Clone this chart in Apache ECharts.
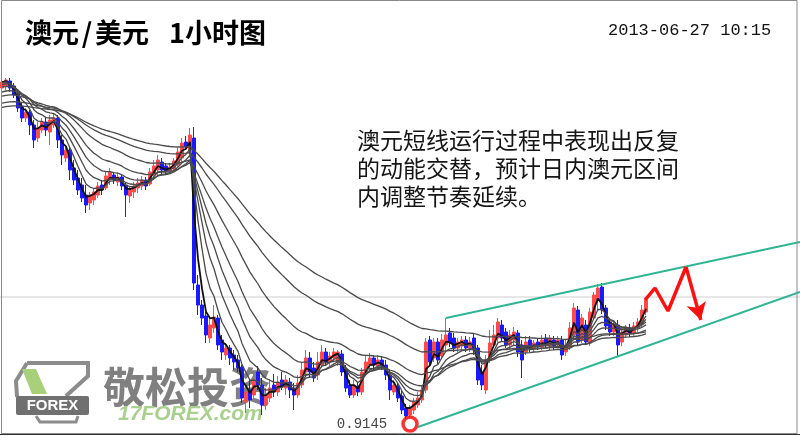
<!DOCTYPE html>
<html>
<head>
<meta charset="utf-8">
<script src="https://cdn.jsdelivr.net/npm/echarts/dist/echarts.min.js"></script>
<style>html,body{margin:0;padding:0;background:#fff;}#c{width:800px;height:436px;}</style>
</head>
<body>
<div id="c"></div>
<script>
// ---- data (AUD/USD, 1 hour candles) ----
const opens = [
0.9479,0.9481,0.9486,0.9481,0.9473,0.9461,0.9449,0.9455,0.9442,0.9429,
0.9437,0.9445,0.9435,0.9442,0.9449,0.9427,0.9409,0.9417,0.9399,0.9389,
0.9382,0.9372,0.9364,0.9367,0.9372,0.9382,0.9379,0.9387,0.9392,0.9385,
0.9390,0.9382,0.9371,0.9375,0.9379,0.9381,0.9387,0.9383,0.9392,0.9397,
0.9405,0.9401,0.9396,0.9398,0.9402,0.9409,0.9425,0.9417,0.9429,0.9282,
0.9262,0.9251,0.9229,0.9239,0.9249,0.9227,0.9212,0.9219,0.9212,0.9207,
0.9200,0.9165,0.9177,0.9172,0.9195,0.9182,0.9162,0.9169,0.9182,0.9175,
0.9187,0.9179,0.9185,0.9179,0.9172,0.9182,0.9195,0.9209,0.9199,0.9192,
0.9202,0.9215,0.9205,0.9209,0.9205,0.9213,0.9197,0.9182,0.9172,0.9181,
0.9175,0.9195,0.9202,0.9209,0.9201,0.9207,0.9202,0.9192,0.9175,0.9181,
0.9171,0.9159,0.9152,0.9157,0.9162,0.9167,0.9177,0.9227,0.9209,0.9225,
0.9211,0.9222,0.9234,0.9229,0.9219,0.9221,0.9227,0.9219,0.9229,0.9219,
0.9195,0.9177,0.9207,0.9222,0.9229,0.9242,0.9235,0.9222,0.9227,0.9234,
0.9222,0.9215,0.9227,0.9219,0.9225,0.9220,0.9229,0.9221,0.9227,0.9222,
0.9227,0.9215,0.9220,0.9232,0.9257,0.9227,0.9242,0.9224,0.9249,0.9267,
0.9280,0.9259,0.9245,0.9235,0.9242,0.9225,0.9232,0.9239,0.9234,0.9239,
0.9243,0.9255];
const closes = [
0.9485,0.9487,0.9479,0.9472,0.9459,0.9449,0.9455,0.9442,0.9427,0.9439,
0.9445,0.9437,0.9447,0.9449,0.9427,0.9412,0.9417,0.9397,0.9387,0.9377,
0.9369,0.9362,0.9372,0.9375,0.9381,0.9377,0.9391,0.9395,0.9387,0.9390,
0.9381,0.9372,0.9377,0.9381,0.9384,0.9387,0.9381,0.9395,0.9401,0.9407,
0.9397,0.9396,0.9400,0.9406,0.9415,0.9424,0.9420,0.9432,0.9284,0.9262,
0.9249,0.9232,0.9242,0.9250,0.9222,0.9215,0.9219,0.9209,0.9205,0.9199,
0.9169,0.9175,0.9167,0.9187,0.9182,0.9162,0.9172,0.9179,0.9175,0.9185,
0.9181,0.9187,0.9177,0.9172,0.9184,0.9197,0.9209,0.9195,0.9189,0.9205,
0.9215,0.9205,0.9211,0.9215,0.9215,0.9195,0.9179,0.9172,0.9182,0.9175,
0.9195,0.9205,0.9209,0.9202,0.9207,0.9201,0.9192,0.9177,0.9182,0.9169,
0.9157,0.9151,0.9159,0.9165,0.9169,0.9177,0.9225,0.9205,0.9225,0.9207,
0.9227,0.9232,0.9224,0.9219,0.9225,0.9227,0.9219,0.9225,0.9217,0.9187,
0.9182,0.9207,0.9224,0.9232,0.9245,0.9229,0.9222,0.9232,0.9235,0.9215,
0.9207,0.9225,0.9219,0.9224,0.9220,0.9227,0.9222,0.9229,0.9221,0.9227,
0.9212,0.9222,0.9239,0.9259,0.9225,0.9249,0.9225,0.9255,0.9272,0.9279,
0.9257,0.9241,0.9235,0.9242,0.9222,0.9235,0.9239,0.9234,0.9241,0.9245,
0.9257,0.9267];
const lows = [
0.9475,0.9477,0.9475,0.9469,0.9455,0.9445,0.9445,0.9432,0.9419,0.9425,
0.9434,0.9431,0.9422,0.9439,0.9419,0.9402,0.9405,0.9387,0.9382,0.9372,
0.9365,0.9354,0.9357,0.9362,0.9369,0.9372,0.9377,0.9382,0.9383,0.9381,
0.9377,0.9350,0.9364,0.9369,0.9374,0.9377,0.9377,0.9381,0.9387,0.9390,
0.9393,0.9392,0.9393,0.9395,0.9399,0.9405,0.9417,0.9412,0.9277,0.9252,
0.9242,0.9224,0.9224,0.9234,0.9217,0.9207,0.9207,0.9202,0.9197,0.9195,
0.9164,0.9154,0.9159,0.9165,0.9177,0.9152,0.9157,0.9165,0.9170,0.9171,
0.9177,0.9172,0.9169,0.9157,0.9169,0.9179,0.9191,0.9189,0.9185,0.9187,
0.9199,0.9201,0.9201,0.9205,0.9201,0.9191,0.9175,0.9169,0.9169,0.9171,
0.9172,0.9192,0.9199,0.9197,0.9197,0.9197,0.9187,0.9167,0.9172,0.9165,
0.9153,0.9145,0.9147,0.9153,0.9159,0.9164,0.9174,0.9201,0.9205,0.9203,
0.9209,0.9217,0.9220,0.9215,0.9215,0.9217,0.9215,0.9215,0.9212,0.9182,
0.9177,0.9173,0.9204,0.9219,0.9225,0.9225,0.9219,0.9217,0.9222,0.9210,
0.9189,0.9212,0.9215,0.9215,0.9217,0.9217,0.9219,0.9217,0.9217,0.9219,
0.9207,0.9211,0.9217,0.9229,0.9222,0.9224,0.9222,0.9221,0.9247,0.9257,
0.9253,0.9237,0.9231,0.9231,0.9211,0.9221,0.9229,0.9230,0.9231,0.9235,
0.9239,0.9252];
const highs = [
0.9489,0.9489,0.9489,0.9484,0.9477,0.9464,0.9459,0.9457,0.9447,0.9445,
0.9449,0.9449,0.9452,0.9454,0.9452,0.9432,0.9422,0.9419,0.9407,0.9397,
0.9389,0.9382,0.9375,0.9379,0.9385,0.9387,0.9395,0.9399,0.9395,0.9394,
0.9393,0.9385,0.9381,0.9385,0.9389,0.9391,0.9390,0.9399,0.9407,0.9412,
0.9409,0.9404,0.9404,0.9409,0.9419,0.9429,0.9431,0.9439,0.9440,0.9292,
0.9267,0.9255,0.9249,0.9262,0.9252,0.9232,0.9224,0.9222,0.9217,0.9212,
0.9202,0.9182,0.9187,0.9195,0.9201,0.9189,0.9179,0.9187,0.9193,0.9191,
0.9195,0.9192,0.9189,0.9184,0.9192,0.9205,0.9217,0.9215,0.9205,0.9215,
0.9222,0.9219,0.9215,0.9219,0.9217,0.9217,0.9202,0.9187,0.9187,0.9185,
0.9199,0.9211,0.9214,0.9212,0.9212,0.9211,0.9207,0.9197,0.9187,0.9184,
0.9177,0.9163,0.9162,0.9169,0.9175,0.9182,0.9229,0.9231,0.9229,0.9229,
0.9233,0.9249,0.9239,0.9234,0.9229,0.9231,0.9231,0.9230,0.9233,0.9222,
0.9202,0.9212,0.9237,0.9242,0.9249,0.9247,0.9239,0.9237,0.9240,0.9237,
0.9227,0.9231,0.9231,0.9227,0.9229,0.9232,0.9233,0.9232,0.9231,0.9231,
0.9231,0.9227,0.9245,0.9264,0.9261,0.9253,0.9247,0.9259,0.9275,0.9283,
0.9284,0.9262,0.9249,0.9247,0.9247,0.9239,0.9242,0.9243,0.9245,0.9249,
0.9262,0.9270];

// moving-average periods and their starting levels read at the left edge
const maPeriods = [3, 6, 10, 15, 22, 35, 55, 75];
const maSeeds   = [0.9485, 0.9484, 0.9482, 0.9479, 0.9474, 0.9470, 0.9463, 0.9459];

// annotation geometry in (bar index, price)
const upperTrend = [[111, 0.9249], [199.5, 0.9325]];
const lowerTrend = [[104, 0.9140], [199.5, 0.9275]];
const forecastPath = [[160.75, 0.9267], [163.25, 0.9279], [166.5, 0.9256], [171, 0.9300]];
const forecastEnd = [174.7, 0.9247];
const levelLine = 0.9270;
const lowMark = [102, 0.9143];

const totalSlots = 200;
const categories = [];
for (let i = 0; i < totalSlots; i++) categories.push(String(i));

const candles = opens.map((o, i) => [o, closes[i], lows[i], highs[i]]);
function ema(vals, n, seed) {
  const k = 2 / (n + 1); let e = seed;
  return vals.map(v => { e = e + k * (v - e); return +e.toFixed(5); });
}
const lowValue = Math.min.apply(null, lows).toFixed(4);

const maSeries = maPeriods.map((p, j) => ({
  type: 'line', data: ema(closes, p, maSeeds[j]), symbol: 'none', silent: true,
  z: 3,
  lineStyle: { width: j === 0 ? 1.8 : 1.3, color: j === 0 ? '#111' : '#4a4a4a' }
}));

const chart = echarts.init(document.getElementById('c'), null, { renderer: 'canvas' });
chart.setOption({
  animation: false,
  backgroundColor: '#fff',
  grid: { left: 0, right: 0, top: 62, bottom: 2, containLabel: false },
  xAxis: [
    { type: 'category', data: categories, boundaryGap: true,
      axisLine: { show: true, lineStyle: { color: '#333', width: 1 } },
      axisTick: { show: false }, axisLabel: { show: false }, splitLine: { show: false } },
    { type: 'value', min: -0.5, max: totalSlots - 0.5, show: false }
  ],
  yAxis: { type: 'value', min: 0.9133, max: 0.9505, show: false, splitLine: { show: false } },
  series: [
    { type: 'line', xAxisIndex: 1, data: [[-0.5, levelLine], [totalSlots - 0.5, levelLine]],
      symbol: 'none', silent: true, z: 1, lineStyle: { color: '#cfcfcf', width: 1 } },
    { type: 'candlestick', data: candles, barWidth: 3, silent: true,
      itemStyle: { color: '#ff4a4a', color0: '#1a1aff', borderColor: '#ff4a4a', borderColor0: '#1a1aff', borderWidth: 1 } }
  ].concat(maSeries).concat([
    { type: 'line', xAxisIndex: 1, data: upperTrend, symbol: 'none', silent: true, z: 4,
      lineStyle: { color: '#2fb596', width: 2 } },
    { type: 'line', xAxisIndex: 1, data: lowerTrend, symbol: 'none', silent: true, z: 4,
      lineStyle: { color: '#2fb596', width: 2 } },
    { type: 'line', xAxisIndex: 1, data: forecastPath, symbol: 'none', silent: true, z: 5,
      lineStyle: { color: '#ff1010', width: 3.5 },
      markLine: { silent: true, symbol: ['none', 'arrow'], symbolSize: [15, 17],
        label: { show: false }, lineStyle: { color: '#ff1010', width: 3.5, type: 'solid' },
        data: [[{ coord: forecastPath[forecastPath.length - 1] }, { coord: forecastEnd }]] } },
    { type: 'scatter', xAxisIndex: 1, data: [lowMark], symbol: 'circle', symbolSize: 14, silent: true, z: 6,
      itemStyle: { color: '#fff', borderColor: '#ff0000', borderWidth: 3.5 },
      label: { show: true, position: 'left', distance: 14, formatter: lowValue,
        fontFamily: 'Liberation Mono', fontSize: 14, color: '#111' } }
  ]),
  graphic: [
    // frame
    { type: 'rect', z: 10, silent: true, shape: { x: 1.5, y: 0.5, width: 795.5, height: 433 },
      style: { fill: 'none', stroke: '#8a8a8a', lineWidth: 1 } },
    // watermark logo
    { type: 'polyline', z: 0, silent: true, shape: { points: [[27,363],[88,363],[88,376],[66,396]] },
      style: { stroke: '#8c8c8c', lineWidth: 4, fill: 'none' } },
    { type: 'polyline', z: 0, silent: true, shape: { points: [[27,363],[16,381],[17,397]] },
      style: { stroke: '#8c8c8c', lineWidth: 4, fill: 'none' } },
    { type: 'polygon', z: 0, silent: true, shape: { points: [[22,369],[36,369],[47,394],[32,394]] },
      style: { fill: '#a8d07a' } },
    { type: 'rect', z: 0, silent: true, shape: { x: 16, y: 396, width: 73, height: 19, r: 2 },
      style: { fill: '#707070' } },
    { type: 'text', z: 0, silent: true, style: { text: 'FOREX', x: 52.5, y: 406, align: 'center', verticalAlign: 'middle',
      font: 'bold 15px "Liberation Sans"', fill: '#fff' } },
    { type: 'polyline', z: 0, silent: true, shape: { points: [[36,416],[40,422],[76,422],[78,416]] },
      style: { stroke: '#8c8c8c', lineWidth: 3, fill: 'none' } },
    { type: 'text', z: 0, silent: true, style: { text: '敬松投资', x: 103, y: 387, verticalAlign: 'middle',
      font: 'bold 42px "Noto Sans CJK SC"', fill: '#808080' } },
    { type: 'text', z: 0, silent: true, style: { text: '17FOREX.com', x: 118, y: 414, verticalAlign: 'middle',
      font: 'italic bold 21px "Liberation Sans"', fill: '#a9d18e' } },
    // title
    { type: 'text', z: 10, silent: true, style: { text: '澳元', x: 25, y: 33, verticalAlign: 'middle',
      font: 'bold 27px "Noto Sans CJK SC"', fill: '#000' } },
    { type: 'text', z: 10, silent: true, style: { text: '/', x: 87, y: 33, align: 'center', verticalAlign: 'middle',
      font: 'bold 27px "Noto Sans CJK SC"', fill: '#000' } },
    { type: 'text', z: 10, silent: true, style: { text: '美元', x: 95, y: 33, verticalAlign: 'middle',
      font: 'bold 27px "Noto Sans CJK SC"', fill: '#000' } },
    { type: 'text', z: 10, silent: true, style: { text: '1小时图', x: 169, y: 33, verticalAlign: 'middle',
      font: 'bold 27px "Noto Sans CJK SC"', fill: '#000' } },
    { type: 'text', z: 10, silent: true, style: { text: '2013-06-27 10:15', x: 608, y: 30, verticalAlign: 'middle',
      font: '17px "Liberation Mono"', fill: '#111' } },
    // commentary
    { type: 'text', z: 10, silent: true, style: {
      text: '澳元短线运行过程中表现出反复\n的动能交替，预计日内澳元区间\n内调整节奏延续。',
      x: 357, y: 126, verticalAlign: 'top', lineHeight: 28,
      font: '23px "Noto Sans CJK SC"', fill: '#151515' } }
  ]
});
</script>
</body>
</html>
